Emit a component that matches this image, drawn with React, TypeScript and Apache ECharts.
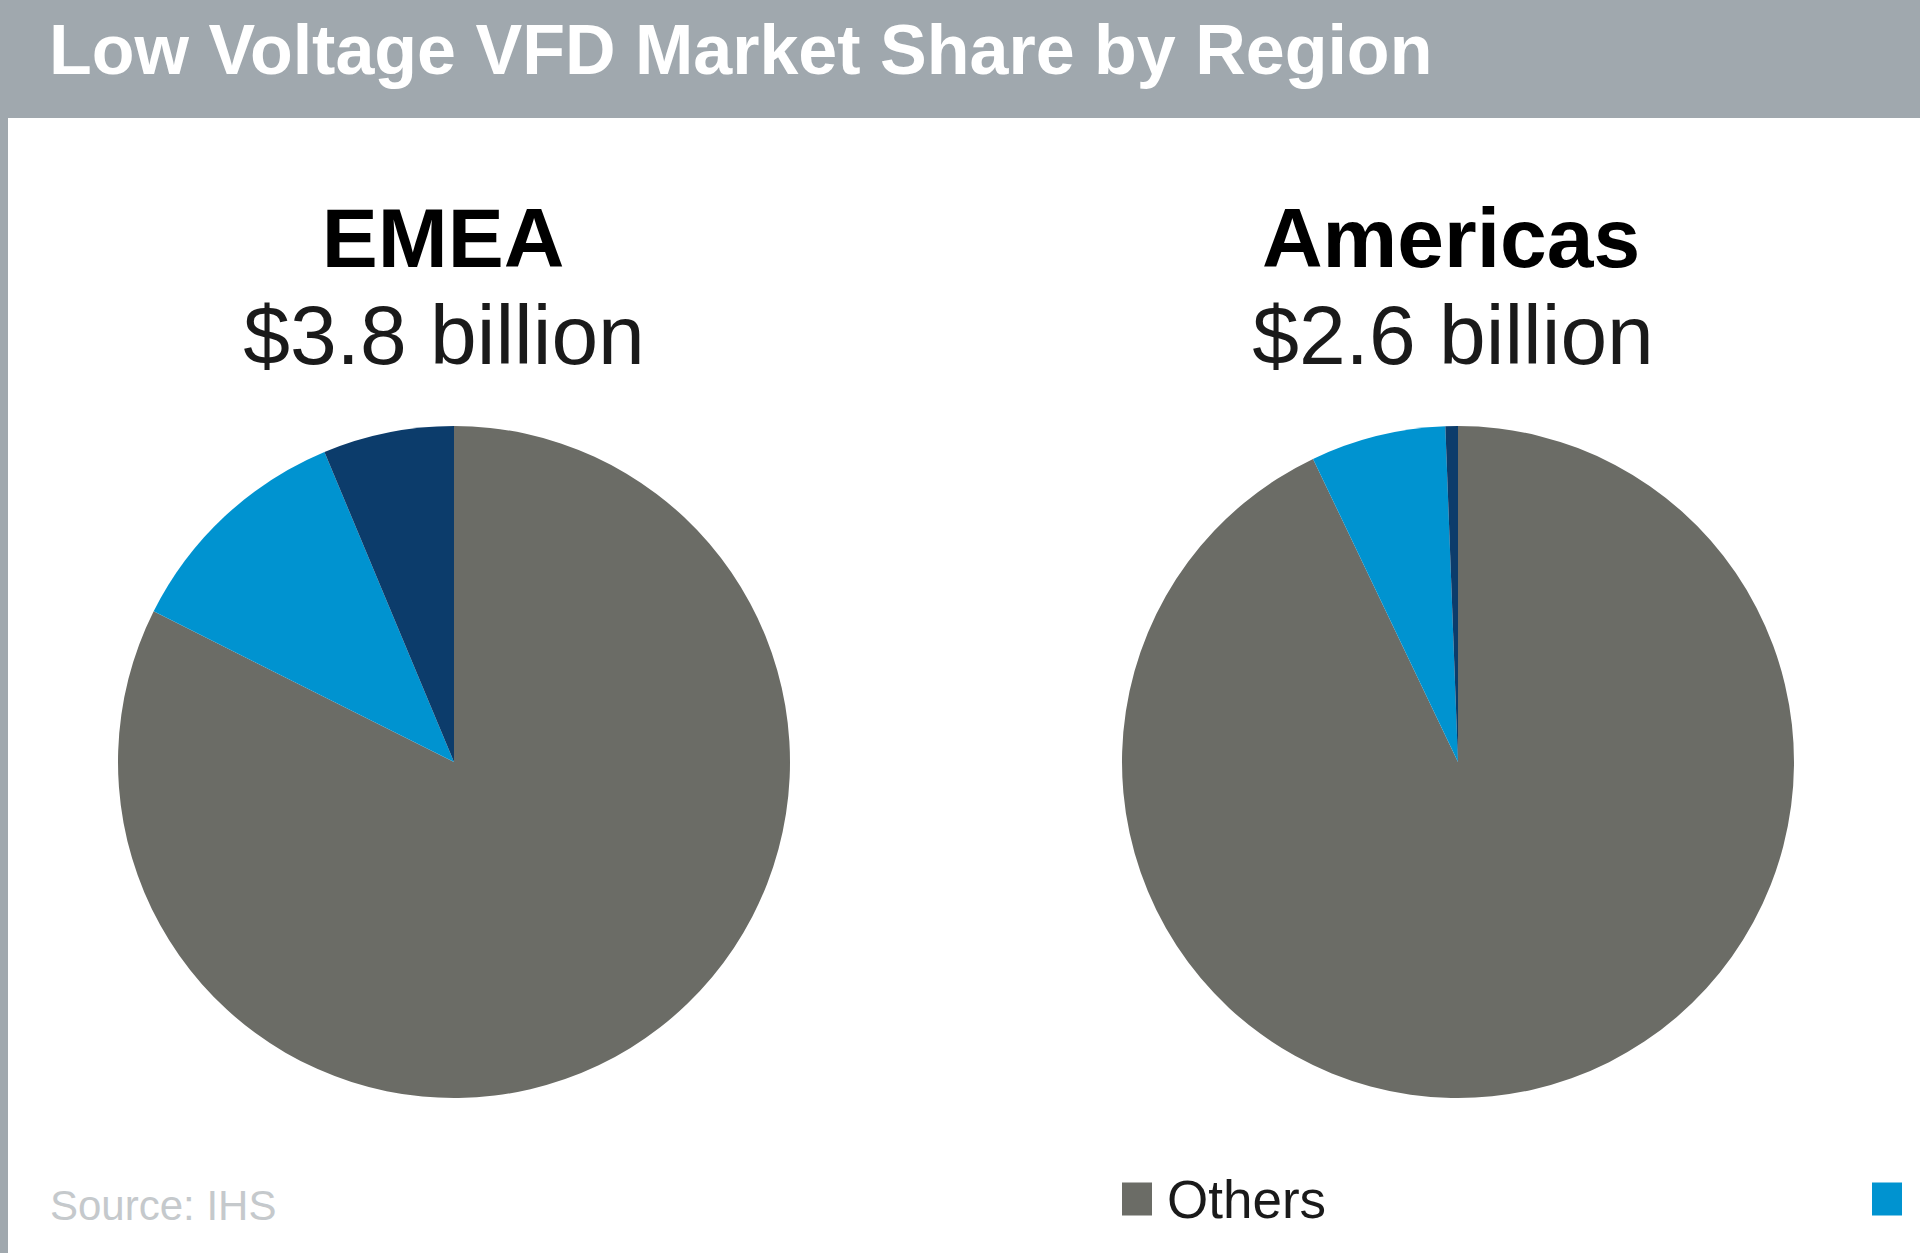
import React, { useEffect, useRef } from "react";
import * as echarts from "echarts";

// Datos
const chartTitle = "Low Voltage VFD Market Share by Region";
const sourceNote = "Source: IHS";
const regions = ["EMEA", "Americas"];
const regionTotals = ["$3.8 billion", "$2.6 billion"];
const vendors = ["Others", "Danfoss", "Vacon"];
const emeaShares = [82.4, 11.3, 6.3];
const americasShares = [92.9, 6.5, 0.6];

const vendorColors = ["#6b6c66", "#0093d0", "#0c3c6b"];
const headerGray = "#a0a8ae";
const font = '"Liberation Sans", Arial, sans-serif';

function pieSeries(name: string, values: number[], cx: number) {
  return {
    type: "pie",
    name,
    center: [cx, 762],
    radius: 336,
    startAngle: 90,
    clockwise: true,
    silent: true,
    avoidLabelOverlap: false,
    label: { show: false },
    labelLine: { show: false },
    emphasis: { disabled: true },
    itemStyle: { borderWidth: 0 },
    data: vendors.map((v, i) => ({ name: v, value: values[i] })),
  };
}

function textEl(text: string, x: number, y: number, size: number, weight: string, fill: string, align = "center") {
  return {
    type: "text",
    x,
    y,
    silent: true,
    style: {
      text,
      fill,
      fontSize: size,
      fontWeight: weight,
      fontFamily: font,
      textAlign: align,
      align,
      textVerticalAlign: "middle",
      verticalAlign: "middle",
    },
  };
}

function legendFor(name: string, left: number) {
  return {
    data: [name],
    left,
    top: 1171,
    padding: 0,
    itemWidth: 30,
    itemHeight: 33,
    icon: "rect",
    selectedMode: false,
    textStyle: {
      fontSize: 53,
      lineHeight: 56,
      fontFamily: font,
      color: "#1a1a1a",
      padding: [0, 0, 0, 10],
    },
  };
}

export default function App() {
  const chartRef = useRef<HTMLDivElement>(null);

  useEffect(() => {
    if (!chartRef.current) return;
    const chart = echarts.init(chartRef.current, undefined, { renderer: "svg" });
    chart.setOption({
      animation: false,
      backgroundColor: "#ffffff",
      color: vendorColors,
      legend: [legendFor(vendors[0], 1122), legendFor(vendors[1], 1872)],
      graphic: [
        { type: "rect", shape: { x: 0, y: 0, width: 1920, height: 118 }, style: { fill: headerGray }, silent: true },
        { type: "rect", shape: { x: 0, y: 0, width: 8, height: 1253 }, style: { fill: headerGray }, silent: true },
        textEl(chartTitle, 49, 50, 70, "bold", "#ffffff", "left"),
        textEl(regions[0], 443, 238, 84, "bold", "#000000"),
        textEl(regionTotals[0], 444, 335, 84, "normal", "#1a1a1a"),
        textEl(regions[1], 1451, 238, 84, "bold", "#000000"),
        textEl(regionTotals[1], 1453, 335, 84, "normal", "#1a1a1a"),
        textEl(sourceNote, 50, 1205, 42, "normal", "#c5c9cc", "left"),
      ],
      series: [
        pieSeries(regions[0], emeaShares, 454),
        pieSeries(regions[1], americasShares, 1458),
      ],
    });
    return () => chart.dispose();
  }, []);

  return (
    <div
      ref={chartRef}
      style={{ position: "fixed", left: 0, top: 0, width: 1920, height: 1253 }}
    />
  );
}
